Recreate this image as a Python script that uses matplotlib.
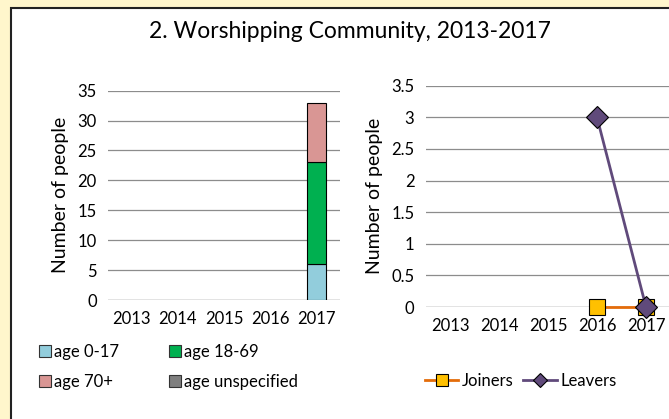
import numpy as np
import matplotlib.pyplot as plt
from matplotlib.patches import Rectangle, Patch
from matplotlib.lines import Line2D

plt.rcParams['font.family'] = ['Lato', 'DejaVu Sans']

years = ['2013', '2014', '2015', '2016', '2017']
age_0_17 = [0, 0, 0, 0, 6]
age_18_69 = [0, 0, 0, 0, 17]
age_70_plus = [0, 0, 0, 0, 10]
age_unspec = [0, 0, 0, 0, 0]

joiners = [np.nan, np.nan, np.nan, 0, 0]
leavers = [np.nan, np.nan, np.nan, 3, 0]

W, H = 669, 419
fig = plt.figure(figsize=(W / 100, H / 100), dpi=100)
fig.patch.set_facecolor('#FFF6CC')

# white panel with dark border on left/top
panel = Rectangle((11 / W, -0.1), 1.2, (H - 8) / H + 0.1, transform=fig.transFigure,
                  facecolor='white', edgecolor='#222222', linewidth=1.5, zorder=-5)
fig.patches.append(panel)

fig.text(350 / W, 1 - 32 / H, '2. Worshipping Community, 2013-2017',
         ha='center', va='center', fontsize=16.5)

grid_c = '#8c8c8c'

# left: stacked bars
ax1 = fig.add_axes([108 / W, 1 - 300 / H, 232 / W, 209.3 / H])
x = np.arange(len(years))
cols = ['#92CDDC', '#00B050', '#D99694', '#7F7F7F']
labs = ['age 0-17', 'age 18-69', 'age 70+', 'age unspecified']
bottom = np.zeros(len(years))
for vals, c, l in zip([age_0_17, age_18_69, age_70_plus, age_unspec], cols, labs):
    lw = [0.8 if v > 0 else 0 for v in vals]
    ax1.bar(x, vals, bottom=bottom, width=0.41, color=c, edgecolor='black',
            linewidth=lw, zorder=3)
    bottom += np.array(vals)
ax1.set_xlim(-0.5, 4.5)
ax1.set_ylim(0, 35)
ax1.set_yticks(range(0, 36, 5))
ax1.set_xticks(x)
ax1.set_xticklabels(years)
ax1.set_ylabel('Number of people', fontsize=14, labelpad=6)

# right: lines
ax2 = fig.add_axes([425.5 / W, 1 - 307 / H, 245 / W, 221.3 / H])
ax2.plot(x, joiners, color='#E46C0A', linewidth=2, marker='s', markersize=11,
         markerfacecolor='#FFC000', markeredgecolor='black', markeredgewidth=0.8,
         label='Joiners', zorder=3, clip_on=False)
ax2.plot(x, leavers, color='#604A7B', linewidth=2, marker='D', markersize=11,
         markerfacecolor='#604A7B', markeredgecolor='black', markeredgewidth=0.8,
         label='Leavers', zorder=4, clip_on=False)
ax2.set_xlim(-0.5, 4.5)
ax2.set_ylim(0, 3.5)
ax2.set_yticks(np.arange(0, 3.51, 0.5))
ax2.set_yticklabels(['0', '0.5', '1', '1.5', '2', '2.5', '3', '3.5'])
ax2.set_xticks(x)
ax2.set_xticklabels(years)
ax2.set_ylabel('Number of people', fontsize=14, labelpad=6)

for ax in (ax1, ax2):
    ax.set_facecolor('none')
    for s in ax.spines.values():
        s.set_visible(False)
    ax.yaxis.grid(True, color=grid_c, linewidth=0.9, zorder=0)
    ax.set_axisbelow(True)
    ax.tick_params(length=0, labelsize=12, pad=8)
    ax.axhline(0, color=grid_c, linewidth=0.9, zorder=1)

# left legend
handles = [Patch(facecolor=c, edgecolor='#333333', linewidth=0.8) for c in cols]
order = [0, 2, 1, 3]
fig.legend([handles[i] for i in order], [labs[i] for i in order], ncol=2,
           loc='center left', bbox_to_anchor=(24 / W, 1 - 367 / H),
           frameon=False, fontsize=12, handlelength=0.7, handleheight=0.7,
           handletextpad=0.2, columnspacing=3.0, labelspacing=0.85)

# right legend
h2, l2 = ax2.get_legend_handles_labels()
jh = Line2D([], [], color='#E46C0A', linewidth=2, marker='s', markersize=8,
            markerfacecolor='#FFC000', markeredgecolor='black', markeredgewidth=0.8)
lh = Line2D([], [], color='#604A7B', linewidth=2, marker='D', markersize=7,
            markerfacecolor='#604A7B', markeredgecolor='black', markeredgewidth=0.8)
fig.legend([jh, lh], l2, ncol=2, loc='center left',
           bbox_to_anchor=(410 / W, 1 - 381 / H), frameon=False, fontsize=12,
           handlelength=2.0, handletextpad=0.2, columnspacing=0.6)

fig.savefig('out.png', dpi=100, facecolor=fig.get_facecolor())
